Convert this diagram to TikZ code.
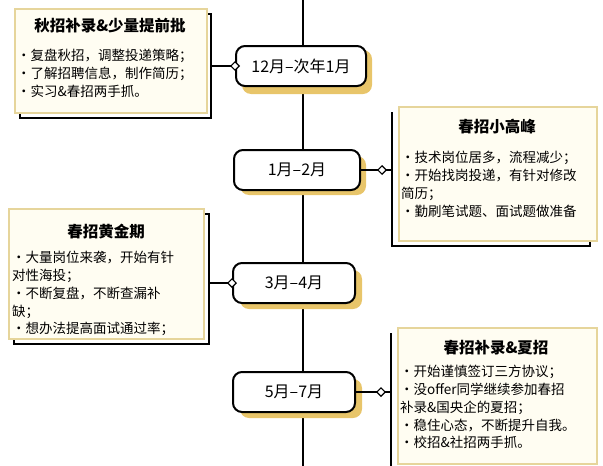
\documentclass[tikz,border=0pt]{standalone}
\usepackage{fontspec}
\usetikzlibrary{shapes.geometric}
\setmainfont{Noto Sans CJK SC}
\begin{document}
\begin{tikzpicture}[x=1pt,y=-1pt,
  card/.style={draw=cardline,line width=2pt,fill=cardfill,anchor=north west,inner sep=0pt},
  pill/.style={draw=black,line width=2pt,fill=white,rounded corners=9pt,minimum height=40pt,font=\fontsize{16}{16}\selectfont},
  ttl/.style={font=\fontsize{15.5}{17}\selectfont\bfseries},
  body/.style={font=\fontsize{13.5}{17.8}\selectfont,align=left,anchor=north west,inner sep=0pt},
  dia/.style={draw=black,fill=white,line width=1.2pt,diamond,inner sep=2.2pt},
  link/.style={line width=2pt}]
\definecolor{cardline}{HTML}{E6D59B}
\definecolor{cardfill}{HTML}{FFFDF2}
\definecolor{gold}{HTML}{E8C56A}
\useasboundingbox (0,0) rectangle (603,466);
\draw[line width=2pt] (303,0) -- (303,466);
% Card 1
\draw[line width=2.2pt] (206,14) -- (211,14) -- (211,118) -- (20,118) -- (20,112);
\node[card,minimum width=192pt,minimum height=104pt] (c1) at (14,8) {};
\node[ttl] (t1) at (110,26) {秋招补录\&少量提前批};
\node[body] (b1) at (17,49) {·复盘秋招，调整投递策略；\\·了解招聘信息，制作简历；\\·实习\&春招两手抓。};
% Pill 1
\fill[gold,rounded corners=9pt] (242,50) rectangle (372,94);
\node[pill,minimum width=130pt] (p1) at (301,66) {12月–次年1月};
\draw[link] (211,66) -- (p1.west);
\node[dia] at (p1.west) {};
% Card 2
\draw[line width=2.2pt] (392,112) -- (392,246) -- (590,246) -- (590,240);
\node[card,minimum width=198pt,minimum height=134pt] (c2) at (398,106) {};
\node[ttl] (t2) at (497,127) {春招小高峰};
\node[body] (b2) at (401,151) {·技术岗位居多，流程减少；\\·开始找岗投递，有针对修改\\简历；\\·勤刷笔试题、面试题做准备};
% Pill 2
\fill[gold,rounded corners=9pt] (240,156) rectangle (366,195);
\node[pill,minimum width=126pt] (p2) at (297,170) {1月–2月};
\draw[link] (p2.east) -- (392,170);
\node[dia] at (382,170) {};
% Card 3
\draw[line width=2.2pt] (203,214) -- (209,214) -- (209,344) -- (14,344) -- (14,338);
\node[card,minimum width=195pt,minimum height=130pt] (c3) at (8,208) {};
\node[ttl] (t3) at (106,232) {春招黄金期};
\node[body] (b3) at (12,251) {·大量岗位来袭，开始有针\\对性海投；\\·不断复盘，不断查漏补\\缺；\\·想办法提高面试通过率；};
% Pill 3
\fill[gold,rounded corners=9pt] (240,270) rectangle (362,309);
\node[pill,minimum width=122pt] (p3) at (294,283) {3月–4月};
\draw[link] (209,283) -- (p3.west);
\node[dia] at (p3.west) {};
% Card 4
\draw[line width=2.2pt] (391,333) -- (391,466);
\node[card,minimum width=199pt,minimum height=136pt] (c4) at (397,327) {};
\node[ttl] (t4) at (496,348) {春招补录\&夏招};
\node[body] (b4) at (400,365) {·开始谨慎签订三方协议；\\·没offer同学继续参加春招\\补录\&国央企的夏招；\\·稳住心态，不断提升自我。\\·校招\&社招两手抓。};
% Pill 4
\fill[gold,rounded corners=9pt] (240,379) rectangle (362,418);
\node[pill,minimum width=122pt] (p4) at (294,392) {5月–7月};
\draw[link] (p4.east) -- (391,392);
\node[dia] at (381,392) {};
\end{tikzpicture}
\end{document}
